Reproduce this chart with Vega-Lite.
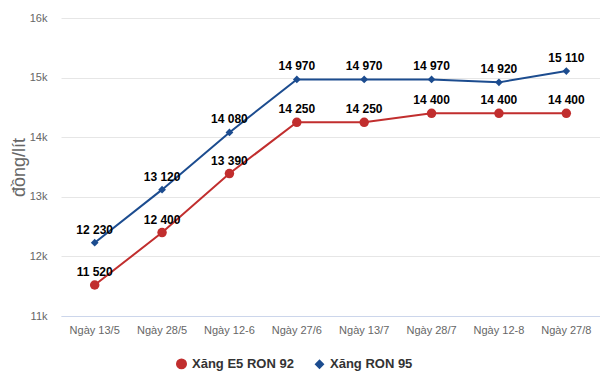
{
  "$schema": "https://vega.github.io/schema/vega-lite/v6.json",
  "autosize": "none",
  "width": 539,
  "height": 298,
  "padding": {"left": 61, "top": 18, "right": 0, "bottom": 61},
  "background": "white",
  "config": {
    "view": {"stroke": null},
    "font": "Liberation Sans",
    "locale": {"number": {"decimal": ",", "thousands": " ", "grouping": [3], "currency": ["", ""]}}
  },
  "data": {"values": [
    {"d": "Ngày 13/5", "s": "Xăng E5 RON 92", "v": 11520},
    {"d": "Ngày 28/5", "s": "Xăng E5 RON 92", "v": 12400},
    {"d": "Ngày 12-6", "s": "Xăng E5 RON 92", "v": 13390},
    {"d": "Ngày 27/6", "s": "Xăng E5 RON 92", "v": 14250},
    {"d": "Ngày 13/7", "s": "Xăng E5 RON 92", "v": 14250},
    {"d": "Ngày 28/7", "s": "Xăng E5 RON 92", "v": 14400},
    {"d": "Ngày 12-8", "s": "Xăng E5 RON 92", "v": 14400},
    {"d": "Ngày 27/8", "s": "Xăng E5 RON 92", "v": 14400},
    {"d": "Ngày 13/5", "s": "Xăng RON 95", "v": 12230},
    {"d": "Ngày 28/5", "s": "Xăng RON 95", "v": 13120},
    {"d": "Ngày 12-6", "s": "Xăng RON 95", "v": 14080},
    {"d": "Ngày 27/6", "s": "Xăng RON 95", "v": 14970},
    {"d": "Ngày 13/7", "s": "Xăng RON 95", "v": 14970},
    {"d": "Ngày 28/7", "s": "Xăng RON 95", "v": 14970},
    {"d": "Ngày 12-8", "s": "Xăng RON 95", "v": 14920},
    {"d": "Ngày 27/8", "s": "Xăng RON 95", "v": 15110}
  ]},
  "encoding": {
    "x": {"field": "d", "type": "nominal", "sort": null,
      "scale": {"type": "band", "paddingInner": 0, "paddingOuter": 0},
      "axis": {"title": null, "labelAngle": 0, "labelColor": "#666666", "labelFontSize": 11, "labelPadding": 8,
        "ticks": false, "domainColor": "#ccd6eb", "domainWidth": 1, "grid": false}},
    "y": {"field": "v", "type": "quantitative",
      "scale": {"domain": [11000, 16000], "nice": false, "zero": false},
      "axis": {"title": "đồng/lít", "titleFontSize": 18, "titleFontWeight": "normal", "titleColor": "#666666", "titlePadding": 1,
        "values": [11000, 12000, 13000, 14000, 15000, 16000],
        "labelExpr": "datum.value / 1000 + 'k'", "labelColor": "#666666", "labelFontSize": 11, "labelPadding": 14,
        "ticks": false, "domain": false, "gridColor": "#e6e6e6"}}
  },
  "layer": [
    {"mark": {"type": "line", "strokeWidth": 2},
      "encoding": {"color": {"field": "s", "type": "nominal",
        "scale": {"domain": ["Xăng E5 RON 92", "Xăng RON 95"], "range": ["#c12e2e", "#1c4c8f"]},
        "legend": {"title": null, "orient": "none", "legendX": 114, "legendY": 339, "direction": "horizontal",
          "labelFontSize": 13, "labelFontWeight": "bold", "labelColor": "#333333", "symbolSize": 90, "columnPadding": 18, "labelOffset": 4}}}},
    {"mark": {"type": "point", "filled": true, "opacity": 1},
      "encoding": {
        "color": {"field": "s", "type": "nominal"},
        "shape": {"field": "s", "type": "nominal",
          "scale": {"domain": ["Xăng E5 RON 92", "Xăng RON 95"], "range": ["circle", "diamond"]},
          "legend": {"title": null, "orient": "none", "legendX": 114, "legendY": 339, "direction": "horizontal",
            "labelFontSize": 13, "labelFontWeight": "bold", "labelColor": "#333333", "symbolSize": 90, "columnPadding": 18, "labelOffset": 4}},
        "size": {"field": "s", "type": "nominal",
          "scale": {"domain": ["Xăng E5 RON 92", "Xăng RON 95"], "range": [90, 60]}, "legend": null}
      }},
    {"mark": {"type": "text", "fontWeight": "bold", "fontSize": 12, "baseline": "bottom", "dy": -6},
      "encoding": {"text": {"field": "v", "type": "quantitative", "format": ","}, "color": {"value": "#000000"}}}
  ]
}
